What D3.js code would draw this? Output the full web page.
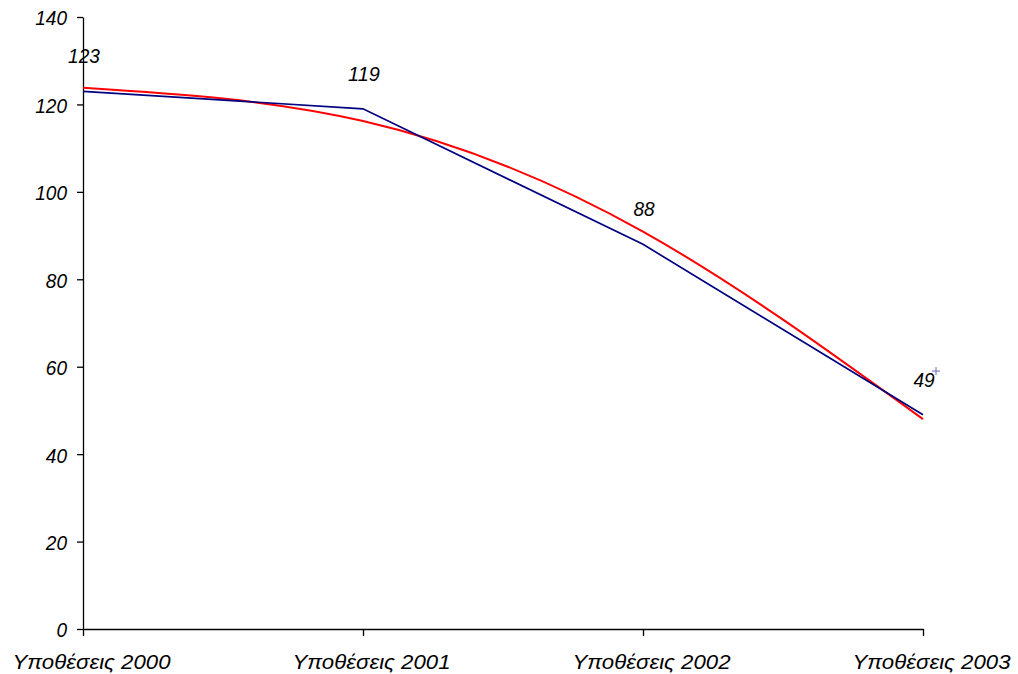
<!DOCTYPE html>
<html>
<head>
<meta charset="utf-8">
<script src="https://cdn.jsdelivr.net/npm/d3@7"></script>
<style>
  body { margin: 0; background: #fff; }
  text { font-family: "Liberation Sans", Arial, sans-serif; font-style: italic; }
</style>
</head>
<body>
<svg id="chart" width="1018" height="674"></svg>
<script>
'use strict';

// chart data
const categories = ['Υποθέσεις 2000', 'Υποθέσεις 2001', 'Υποθέσεις 2002', 'Υποθέσεις 2003'];
const cases = [123, 119, 88, 49];
// polynomial trend line at each category
const trend = [123.8, 116.2, 90.9, 48];
// stray marker near the last point
const strayMarker = [{ cat: 'Υποθέσεις 2003', value: 59 }];
const yTicks = [0, 20, 40, 60, 80, 100, 120, 140];

const margin = { top: 17, right: 95, bottom: 45, left: 83 },
      width = 1018 - margin.left - margin.right,
      height = 674 - margin.top - margin.bottom;

// the original text is drawn slightly stretched: numbers narrow, category labels wide
const numWidth = 10.6,
      catWidth = 158;

const svg = d3.select('#chart');
const graph = svg.append('g')
    .attr('transform', `translate(${margin.left}, ${margin.top})`);

const x = d3.scalePoint()
    .domain(categories)
    .range([0, width]);

const y = d3.scaleLinear()
    .domain([0, 140])
    .range([height, 0]);

// axes
const yAxis = graph.append('g')
    .call(d3.axisLeft(y).tickValues(yTicks).tickSize(6).tickPadding(10).tickSizeOuter(0));
yAxis.select('.domain').attr('stroke', '#000').attr('stroke-width', 1.3);
yAxis.selectAll('.tick line').attr('stroke', '#000').attr('stroke-width', 1.3);
yAxis.selectAll('.tick text')
    .attr('font-size', 21)
    .attr('fill', '#000')
    .attr('font-family', '"Liberation Sans", Arial, sans-serif')
    .attr('dy', '0.38em')
    .attr('textLength', d => String(d).length * numWidth)
    .attr('lengthAdjust', 'spacingAndGlyphs');

const xAxis = graph.append('g')
    .attr('transform', `translate(0, ${height})`)
    .call(d3.axisBottom(x).tickSize(7).tickPadding(19).tickSizeOuter(0));
xAxis.select('.domain').attr('stroke', '#000').attr('stroke-width', 1.3);
xAxis.selectAll('.tick line').attr('stroke', '#000').attr('stroke-width', 1.3);
xAxis.selectAll('.tick text')
    .attr('font-size', 20)
    .attr('fill', '#000')
    .attr('dx', 8)
    .attr('font-family', '"Liberation Sans", Arial, sans-serif')
    .attr('textLength', catWidth)
    .attr('lengthAdjust', 'spacingAndGlyphs');

// trend line
const trendLine = d3.line()
    .x((d, i) => x(categories[i]))
    .y(d => y(d))
    .curve(d3.curveNatural);

graph.append('path')
    .datum(trend)
    .attr('fill', 'none')
    .attr('stroke', '#ff0000')
    .attr('stroke-width', 2)
    .attr('d', trendLine);

// series line
const caseLine = d3.line()
    .x((d, i) => x(categories[i]))
    .y(d => y(d));

graph.append('path')
    .datum(cases)
    .attr('fill', 'none')
    .attr('stroke', '#000080')
    .attr('stroke-width', 1.7)
    .attr('d', caseLine);

// data labels
graph.selectAll('.label')
    .data(cases)
  .enter().append('text')
    .attr('class', 'label')
    .attr('x', (d, i) => x(categories[i]) + 1)
    .attr('y', d => y(d) - 28)
    .attr('text-anchor', 'middle')
    .attr('font-size', 21)
    .attr('textLength', d => String(d).length * numWidth)
    .attr('lengthAdjust', 'spacingAndGlyphs')
    .text(d => d);

// stray marker
graph.selectAll('.stray')
    .data(strayMarker)
  .enter().append('path')
    .attr('class', 'stray')
    .attr('transform', d => `translate(${x(d.cat) + 13}, ${y(d.value)})`)
    .attr('d', 'M-4,0H4M0,-4V4')
    .attr('stroke', '#6a6ab8')
    .attr('stroke-width', 1);
</script>
</body>
</html>
